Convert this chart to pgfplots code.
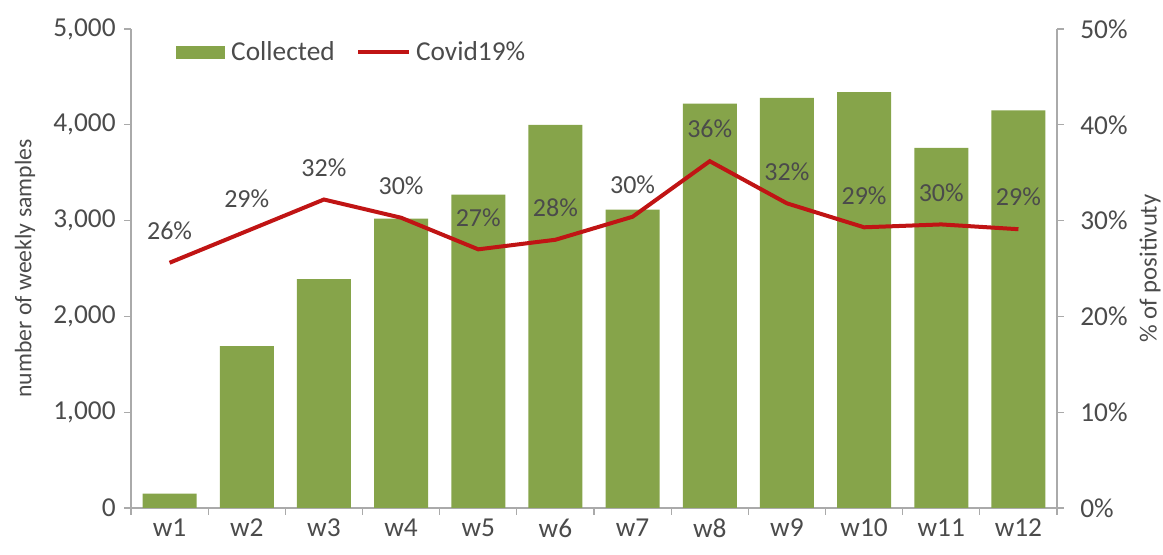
\documentclass[border=0pt]{standalone}
\usepackage{fontspec}
\setmainfont{Carlito}
\usepackage{pgfplots}
\pgfplotsset{compat=1.18}
\definecolor{barcol}{RGB}{134,164,74}
\definecolor{linecol}{RGB}{192,20,20}
\definecolor{txt}{RGB}{75,75,75}
\definecolor{axcol}{RGB}{170,170,170}
\pgfplotstableread{
x y
1 150
2 1690
3 2390
4 3020
5 3270
6 4000
7 3115
8 4220
9 4280
10 4340
11 3760
12 4150
}\collected
\pgfplotstableread{
x y lab
1 25.6 26\%
2 28.9 29\%
3 32.2 32\%
4 30.3 30\%
5 27.0 27\%
6 28.0 28\%
7 30.4 30\%
8 36.2 36\%
9 31.8 32\%
10 29.3 29\%
11 29.6 30\%
12 29.1 29\%
}\covid
\begin{document}
\begin{tikzpicture}[font=\fontsize{20}{24}\selectfont]
\pgfplotsset{
  base/.style={
    scale only axis, width=694.5pt, height=359.25pt,
    xmin=0.5, xmax=12.5,
    axis line style={axcol, line width=0.9pt, -},
    tick style={axcol, line width=0.9pt},
    major tick length=5pt,
    tick align=outside,
    ticklabel style={text=txt, font=\fontsize{20.5}{24}\selectfont},
    /pgf/number format/assume math mode=true,
  }
}
\begin{axis}[base, name=ax,
  ymin=0, ymax=5000,
  ytick={0,1000,...,5000},
  yticklabel style={xshift=-3pt, /pgf/number format/.cd, 1000 sep={,}},
  axis y line*=left,
  axis x line*=bottom,
  xtick={0.5,1.5,...,12.5},
  xticklabels={},
  extra x ticks={1,...,12},
  extra x tick labels={w1,w2,w3,w4,w5,w6,w7,w8,w9,w10,w11,w12},
  extra x tick style={major tick length=0pt, xticklabel style={yshift=-4.5pt}},
  ylabel={number of weekly samples},
  every axis y label/.style={at={(axis description cs:-0.1145,0.5)}, rotate=90, anchor=center,
    text=txt, font=\fontsize{17.8}{22}\selectfont},
]
\addplot[ybar, bar width=40.5pt, fill=barcol, draw=none] table[x=x,y=y] {\collected};
\end{axis}
\begin{axis}[base,
  ymin=0, ymax=50,
  ytick={0,10,...,50},
  yticklabel={\pgfmathprintnumber{\tick}\%},
  yticklabel style={xshift=9pt},
  axis y line*=right,
  axis x line=none,
  ylabel={\% of positivuty},
  every axis y label/.style={at={(axis description cs:1.1004,0.5)}, rotate=90, anchor=center,
    text=txt, font=\fontsize{18.5}{22}\selectfont},
  legend columns=2,
  legend style={draw=none, fill=none, at={(axis description cs:0.044,0.952)}, anchor=west,
    font=\fontsize{20.5}{24}\selectfont, text=txt,
    /tikz/every even column/.append style={column sep=14pt}},
]
\addlegendimage{legend image code/.code={\fill[barcol] (0pt,-4.5pt) rectangle (36pt,4.5pt); \path (39pt,0pt);}}
\addlegendentry{Collected}
\addplot[linecol, line width=3pt, nodes near coords, point meta=explicit symbolic,
  nodes near coords style={text=txt, anchor=center, yshift=24pt, font=\fontsize{19.5}{22}\selectfont},
  legend image code/.code={\draw[linecol, line width=3pt] (0pt,0pt) -- (38pt,0pt); \path (40pt,0pt);}]
  table[x=x,y=y,meta=lab] {\covid};
\addlegendentry{Covid19\%}
\end{axis}
\pgfresetboundingbox
\path[use as bounding box] ([shift={(-98.25pt,-35.25pt)}]ax.south west) rectangle ([shift={(79.5pt,21.75pt)}]ax.north east);
\end{tikzpicture}
\end{document}
